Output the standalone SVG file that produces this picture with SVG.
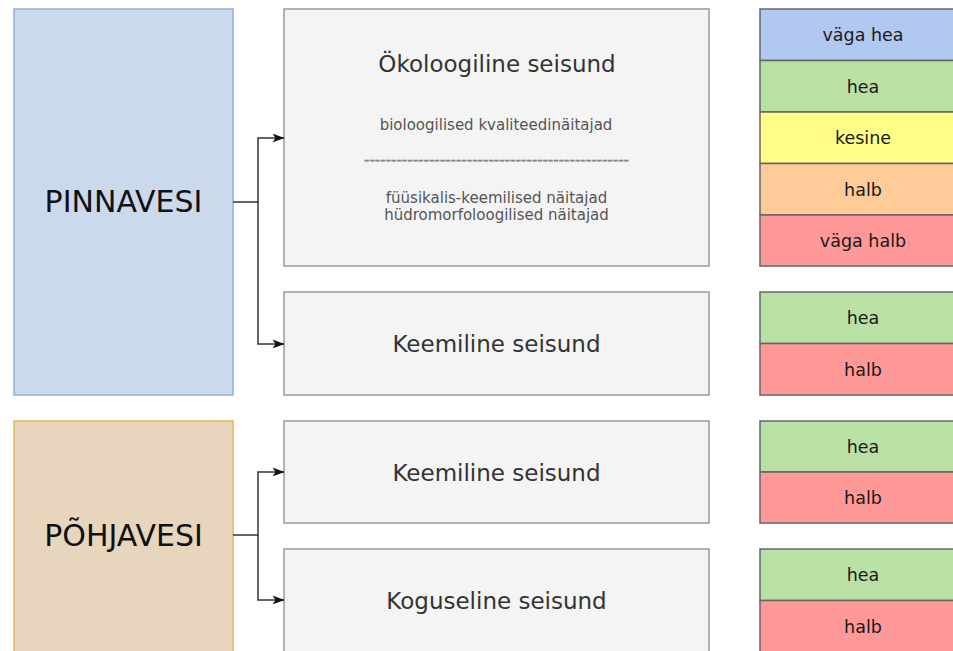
<svg xmlns="http://www.w3.org/2000/svg" width="953" height="651" viewBox="0 0 953 651">
<defs>
<marker id="arr" viewBox="0 0 12 10" refX="11.5" refY="5" markerWidth="12" markerHeight="10" markerUnits="userSpaceOnUse" orient="auto">
<path d="M0,0.5 L12,5 L0,9.5 L3,5 Z" fill="#111"/>
</marker>
</defs>
<style>
text{font-family:"DejaVu Sans","Liberation Sans",sans-serif;text-anchor:middle}
.gray{fill:#f4f4f4;stroke:#9a9a9a;stroke-width:1.5}
.big{font-size:30px;fill:#111}
.title{font-size:23px;fill:#333}
.small{font-size:15px;fill:#555}
.dash{font-size:15px;fill:#888;stroke:#888;stroke-width:0.5}
.lvl{stroke:#666;stroke-width:1.5}
.lt{font-size:17.5px;fill:#1a1a1a}
.conn{fill:none;stroke:#333;stroke-width:1.5}
</style>
<rect width="953" height="651" fill="#ffffff"/>
<g id="pinnavesi">
<rect x="14" y="9" width="219" height="386" fill="#cbd9ed" stroke="#93afd8" stroke-width="1.5"/>
<text class="big" x="123.5" y="212">PINNAVESI</text>
</g>
<g id="pohjavesi">
<rect x="14" y="421" width="219" height="240" fill="#e8d5bd" stroke="#e0b85e" stroke-width="1.5"/>
<text class="big" x="123.5" y="546">PÕHJAVESI</text>
</g>
<g id="okoloogiline">
<rect class="gray" x="284" y="9" width="425" height="257"/>
<text class="title" x="497" y="72">Ökoloogiline seisund</text>
<text class="small" x="496" y="130">bioloogilised kvaliteedinäitajad</text>
<text class="dash" x="496.5" y="165" textLength="265" lengthAdjust="spacing">-------------------------------------------------</text>
<text class="small" x="496.5" y="203">füüsikalis-keemilised näitajad</text>
<text class="small" x="496.5" y="220">hüdromorfoloogilised näitajad</text>
</g>
<g id="keemiline1">
<rect class="gray" x="284" y="292" width="425" height="103"/>
<text class="title" x="496.5" y="352">Keemiline seisund</text>
</g>
<g id="keemiline2">
<rect class="gray" x="284" y="421" width="425" height="102"/>
<text class="title" x="496.5" y="481">Keemiline seisund</text>
</g>
<g id="koguseline">
<rect class="gray" x="284" y="549" width="425" height="112"/>
<text class="title" x="496.5" y="609">Koguseline seisund</text>
</g>
<g id="levels1">
<rect class="lvl" x="760" y="9" width="206" height="51.5" fill="#b1c9f0"/>
<text class="lt" x="863" y="41">väga hea</text>
<rect class="lvl" x="760" y="60.5" width="206" height="51.5" fill="#b9e0a5"/>
<text class="lt" x="863" y="92.5">hea</text>
<rect class="lvl" x="760" y="112" width="206" height="51.5" fill="#ffff88"/>
<text class="lt" x="863" y="144">kesine</text>
<rect class="lvl" x="760" y="163.5" width="206" height="51.5" fill="#ffcc99"/>
<text class="lt" x="863" y="195.5">halb</text>
<rect class="lvl" x="760" y="215" width="206" height="51" fill="#ff9999"/>
<text class="lt" x="863" y="247">väga halb</text>
</g>
<g id="levels2">
<rect class="lvl" x="760" y="292" width="206" height="51.5" fill="#b9e0a5"/>
<text class="lt" x="863" y="324">hea</text>
<rect class="lvl" x="760" y="343.5" width="206" height="51.5" fill="#ff9999"/>
<text class="lt" x="863" y="375.5">halb</text>
</g>
<g id="levels3">
<rect class="lvl" x="760" y="421" width="206" height="51" fill="#b9e0a5"/>
<text class="lt" x="863" y="452.5">hea</text>
<rect class="lvl" x="760" y="472" width="206" height="51" fill="#ff9999"/>
<text class="lt" x="863" y="504">halb</text>
</g>
<g id="levels4">
<rect class="lvl" x="760" y="549" width="206" height="51.5" fill="#b9e0a5"/>
<text class="lt" x="863" y="581">hea</text>
<rect class="lvl" x="760" y="600.5" width="206" height="60" fill="#ff9999"/>
<text class="lt" x="863" y="632.5">halb</text>
</g>
<g id="connectors">
<path class="conn" d="M233,202 H258 V138 H284" marker-end="url(#arr)"/>
<path class="conn" d="M258,202 V344 H284" marker-end="url(#arr)"/>
<path class="conn" d="M233,535 H258 V472 H284" marker-end="url(#arr)"/>
<path class="conn" d="M258,535 V600 H284" marker-end="url(#arr)"/>
</g>
</svg>
